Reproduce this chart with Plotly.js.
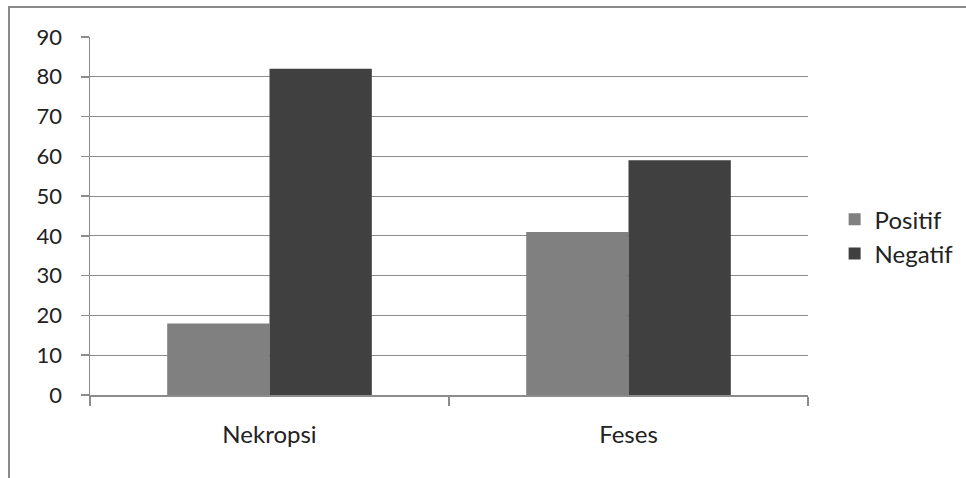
<!DOCTYPE html>
<html>
<head>
<meta charset="utf-8">
<script src="https://cdn.plot.ly/plotly-3.0.1.min.js"></script>
<style>
  html, body { margin: 0; padding: 0; background: #ffffff; }
  #wrap { position: relative; width: 966px; height: 478px; overflow: hidden; }
  #frame { position: absolute; left: 8px; top: 6px; width: 1000px; height: 520px;
           border: 2px solid #8a8a8a; box-sizing: border-box; }
  #chart { position: absolute; left: 0; top: 0; width: 966px; height: 478px; }
</style>
</head>
<body>
<div id="wrap">
  <div id="frame"></div>
  <div id="chart"></div>
</div>
<script>
// Hasil pemeriksaan per metode
const categories = ["Nekropsi", "Feses"];
const positif = [18, 41];
const negatif = [82, 59];
const seriesNames = ["Positif", "Negatif"];
const yTicks = [0, 10, 20, 30, 40, 50, 60, 70, 80, 90];

const fontFamily = "Lato, 'Open Sans', sans-serif";

const traces = [
  {
    type: "bar", name: seriesNames[0], x: categories, y: positif,
    marker: { color: "#808080", line: { width: 0 } }
  },
  {
    type: "bar", name: seriesNames[1], x: categories, y: negatif,
    marker: { color: "#404040", line: { width: 0 } }
  }
];

const layout = {
  width: 966, height: 478,
  margin: { l: 90, r: 158, t: 37, b: 83, autoexpand: false },
  paper_bgcolor: "rgba(0,0,0,0)",
  plot_bgcolor: "rgba(0,0,0,0)",
  font: { family: fontFamily, size: 24, color: "#222222" },
  barmode: "group",
  bargap: 0.43,
  bargroupgap: 0,
  showlegend: true,
  legend: {
    xref: "container", x: 0.864, xanchor: "left",
    yref: "container", y: 0.505, yanchor: "middle",
    font: { family: fontFamily, size: 24, color: "#222222" },
    itemwidth: 30, tracegroupgap: 0, bgcolor: "rgba(0,0,0,0)"
  },
  xaxis: {
    type: "category", range: [-0.5, 1.5],
    showline: true, linecolor: "#8c8c8c", linewidth: 1.5,
    ticks: "outside", tickson: "boundaries", ticklen: 9, tickwidth: 1.5, tickcolor: "#8c8c8c",
    ticklabelstandoff: 18,
    showgrid: false, zeroline: false, fixedrange: true
  },
  yaxis: {
    range: [0, 90], tickvals: yTicks,
    tickfont: { family: fontFamily, size: 22, color: "#222222" },
    showline: true, linecolor: "#8c8c8c", linewidth: 1.5,
    ticks: "outside", ticklen: 8, tickwidth: 1.5, tickcolor: "#8c8c8c",
    ticklabelstandoff: 14,
    showgrid: true, gridcolor: "#8c8c8c", gridwidth: 1.2,
    zeroline: false, fixedrange: true
  }
};

// enlarge the legend swatches to square boxes of 14px
function enlargeSwatches(gd) {
  gd.querySelectorAll(".legendpoints path.legendbar").forEach(function (p) {
    p.setAttribute("d", "M7,7H-7V-7H7Z");
  });
}

const gd = document.getElementById("chart");
Plotly.newPlot(gd, traces, layout, { displayModeBar: false, staticPlot: true })
  .then(function () { enlargeSwatches(gd); });
</script>
</body>
</html>
